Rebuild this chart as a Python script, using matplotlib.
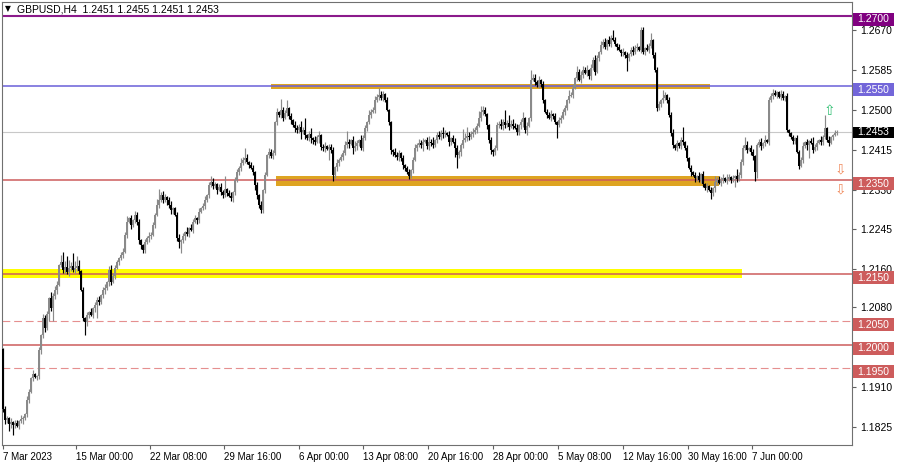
import matplotlib
matplotlib.use("Agg")
import matplotlib.pyplot as plt
import matplotlib.transforms as mtransforms
from matplotlib.patches import Rectangle
import numpy as np

plt.rcParams['font.family'] = ['Liberation Sans', 'DejaVu Sans']

# ------------------------------------------------------------------ data -- #
# GBPUSD H4 closes in pips (price * 10000), 7 Mar -> 7 Jun 2023
first_open = 11990
closes = [
    11863, 11839, 11843, 11831, 11835, 11829, 11833, 11827, 11837, 11841,
    11843, 11852, 11882, 11899, 11929, 11937, 11931, 11933, 11988, 12020,
    12056, 12035, 12065, 12099, 12078, 12103, 12116, 12127, 12169, 12175,
    12158, 12165, 12154, 12163, 12167, 12158, 12163, 12167, 12156, 12116,
    12056, 12048, 12063, 12069, 12063, 12078, 12084, 12095, 12090, 12105,
    12116, 12120, 12133, 12158, 12133, 12146, 12163, 12175, 12184, 12190,
    12197, 12233, 12261, 12269, 12254, 12265, 12276, 12261, 12222, 12212,
    12201, 12218, 12227, 12231, 12233, 12254, 12276, 12297, 12307, 12318,
    12307, 12314, 12307, 12297, 12286, 12290, 12276, 12227, 12218, 12222,
    12231, 12239, 12235, 12248, 12244, 12261, 12269, 12265, 12282, 12290,
    12295, 12307, 12318, 12339, 12346, 12337, 12341, 12329, 12335, 12324,
    12318, 12331, 12322, 12316, 12312, 12324, 12350, 12367, 12376, 12386,
    12393, 12397, 12388, 12382, 12376, 12367, 12339, 12318, 12297, 12286,
    12329, 12361, 12403, 12410, 12401, 12407, 12473, 12495, 12488, 12499,
    12482, 12493, 12503, 12486, 12478, 12467, 12461, 12456, 12463, 12452,
    12456, 12446, 12439, 12448, 12439, 12435, 12431, 12441, 12446, 12420,
    12418, 12422, 12416, 12420, 12414, 12361, 12378, 12386, 12393, 12399,
    12407, 12424, 12431, 12427, 12435, 12418, 12422, 12429, 12435, 12418,
    12439, 12461, 12473, 12488, 12495, 12499, 12520, 12527, 12531, 12524,
    12533, 12520, 12499, 12473, 12414, 12410, 12403, 12399, 12407, 12397,
    12382, 12376, 12367, 12358, 12371, 12393, 12418, 12424, 12429, 12424,
    12431, 12435, 12422, 12431, 12429, 12424, 12435, 12446, 12441, 12450,
    12448, 12450, 12446, 12431, 12439, 12431, 12418, 12403, 12410, 12424,
    12435, 12439, 12444, 12441, 12448, 12452, 12456, 12465, 12482, 12495,
    12499, 12490, 12467, 12435, 12414, 12410, 12418, 12467, 12469, 12465,
    12473, 12467, 12471, 12463, 12469, 12465, 12461, 12452, 12467, 12473,
    12482, 12456, 12465, 12482, 12563, 12567, 12558, 12552, 12563, 12554,
    12520, 12495, 12488, 12482, 12490, 12486, 12473, 12467, 12478, 12482,
    12495, 12503, 12520, 12529, 12531, 12546, 12567, 12580, 12563, 12573,
    12584, 12578, 12584, 12571, 12588, 12605, 12580, 12610, 12622, 12637,
    12644, 12633, 12648, 12639, 12652, 12648, 12639, 12633, 12627, 12620,
    12622, 12616, 12610, 12618, 12627, 12622, 12631, 12633, 12627, 12669,
    12622, 12631, 12627, 12635, 12648, 12616, 12584, 12503, 12512, 12520,
    12524, 12531, 12520, 12488, 12450, 12424, 12418, 12429, 12422, 12435,
    12431, 12418, 12397, 12376, 12367, 12361, 12354, 12358, 12350, 12363,
    12341, 12333, 12337, 12329, 12322, 12333, 12346, 12350, 12344, 12350,
    12354, 12348, 12352, 12356, 12350, 12354, 12358, 12352, 12361, 12388,
    12418, 12424, 12414, 12418, 12410, 12401, 12367, 12424, 12431, 12422,
    12429, 12435, 12431, 12520, 12529, 12535, 12531, 12537, 12527, 12533,
    12524, 12529, 12456, 12450, 12441, 12433, 12439, 12410, 12380, 12393,
    12422, 12431, 12424, 12433, 12429, 12414, 12420, 12429, 12435, 12431,
    12441, 12461, 12435, 12429, 12441, 12446, 12451, 12453,
]

# wick lengths, one digit per bar, in units of 3 pips
upper_wicks = (
    "1221312213" "2132131121" "3221423315" "7486395741" "2121312231"
    "2313422212" "3241213221" "1213221482" "3212311231" "2141322131"
    "2312432123" "2912312214" "2731221213" "1213221318" "2261213224"
    "2912413231" "2312221312" "2382134214" "2214223253" "2121113221"
    "2112123232" "3124241232" "4213123212" "8463232254" "3211212224"
    "2926342312" "4131733231" "2122312122" "2214231423" "3241324213"
    "2313262121" "3121232312" "2132512221" "6212231212" "9121212131"
    "2121214232" "3142121522" "2631221223" "1412232113" "2121121212"
    "3121242213" "29131121"
)
lower_wicks = (
    "2325372121" "3122121223" "2315292311" "2213212221" "2932123921"
    "2313212121" "2121312233" "2213212121" "2132331248" "2312121321"
    "1212121312" "2121232122" "1212123322" "2212121212" "2122313225"
    "1312332142" "2318242321" "2123142321" "2121212121" "2112331232"
    "3212121212" "4123221212" "3213216923" "2122121212" "2132332122"
    "3212121223" "3231212122" "2121221912" "1212121212" "2122312121"
    "2121211212" "2292121212" "1212121212" "2121221212" "2121313212"
    "2131423212" "2121216212" "2121236413" "1212121212" "1212122121"
    "2139121212" "21121212"
)

tick_bars = [0, 36.5, 73.5, 110.5, 148, 180, 212.5, 245, 277.5, 310, 342.5, 374.5]
tick_labels = ["7 Mar 2023", "15 Mar 00:00", "22 Mar 08:00", "29 Mar 16:00",
               "6 Apr 00:00", "13 Apr 08:00", "20 Apr 16:00", "28 Apr 00:00",
               "5 May 08:00", "12 May 16:00", "30 May 16:00", "7 Jun 00:00"]
price_ticks = [1.2670, 1.2585, 1.2500, 1.2415, 1.2330, 1.2245, 1.2160,
               1.2080, 1.1910, 1.1825]

# horizontal levels
level_prices = [1.2700, 1.2550, 1.2350, 1.2150, 1.2050, 1.2000, 1.1950]
level_colors = ["#8b1a8b", "#6a5fd8", "#cd5c5c", "#cd5c5c", "#e58f8f", "#cd5c5c", "#e58f8f"]
level_box_colors = ["#800080", "#7366d9", "#cd5c5c", "#cd5c5c", "#cd5c5c", "#cd5c5c", "#cd5c5c"]
level_widths = [1.5, 1.1, 1.1, 1.1, 0.8, 1.1, 0.8]
level_dashed = [False, False, False, False, True, False, True]

# zones (yellow 1.2150, resistance 1.2550, support 1.2350)
zone_start = [-0.5, 134, 136.5]
zone_end = [369.5, 353.5, 358]
zone_low = [1.2141, 1.2544, 1.2337]
zone_high = [1.2160, 1.2555, 1.2358]
zone_colors = ["#ffff00", "#dea421", "#dea421"]

last_price = 1.2453
signal_bars = [413, 418.5, 418.5]
signal_prices = [1.2497, 1.2373, 1.2331]
signal_marks = ["\u21e7", "\u21e9", "\u21e9"]
signal_colors = ["#2fbf71", "#f08a5d", "#f08a5d"]

# ------------------------------------------------------------- candles ---- #
n = len(closes)
c = np.array(closes) / 1e4
o = np.concatenate([[first_open], closes[:-1]]) / 1e4
uw = np.array([int(d) for d in upper_wicks[:n]]) * 3e-4
lw = np.array([int(d) for d in lower_wicks[:n]]) * 3e-4
hi = np.maximum(o, c) + uw
lo = np.minimum(o, c) - lw
x = np.arange(n)
bull = c >= o
cols = np.where(bull, "#8a8a8a", "#000000")

W, H = 900, 465
fig = plt.figure(figsize=(W / 100, H / 100), dpi=100)
ax = fig.add_axes([2 / W, 20 / H, 850 / W, 443 / H])
ymin, ymax = 1.17863, 1.27290
ax.set_xlim(-0.5, 424.5)
ax.set_ylim(ymin, ymax)
ppx = (ymax - ymin) / 443.0

for s, e, l, h, col in zip(zone_start, zone_end, zone_low, zone_high, zone_colors):
    ax.add_patch(Rectangle((s, l), e - s, h - l, facecolor=col, edgecolor="none", zorder=1))

ax.axhline(last_price, color="#c8c8c8", lw=0.8, zorder=0.8)
for p, col, w, d in zip(level_prices, level_colors, level_widths, level_dashed):
    ax.axhline(p, color=col, lw=w, ls=(0, (7, 3.5)) if d else "-", zorder=2)

ax.vlines(x, lo, hi, colors=cols, linewidth=0.85, zorder=3)
body = np.maximum(np.abs(c - o), 0.00005)
ax.bar(x, body, bottom=np.minimum(o, c), width=0.9, color=cols, linewidth=0, zorder=3)

for b, p, m, col in zip(signal_bars, signal_prices, signal_marks, signal_colors):
    ax.text(b, p, m, color=col, fontsize=10, ha="center", va="center", zorder=5,
            family="DejaVu Sans")

# ---------------------------------------------------------------- axes ---- #
for sp in ax.spines.values():
    sp.set_color("#707070")
    sp.set_linewidth(0.8)
ax.yaxis.tick_right()
ax.set_yticks(price_ticks)
ax.set_yticklabels([f"{p:.4f}" for p in price_ticks])
ax.set_xticks(tick_bars)
ax.set_xticklabels(tick_labels)
for t in ax.get_xticklabels():
    t.set_ha("left")
ax.tick_params(axis="both", direction="out", length=3, width=0.8, color="#606060",
               labelsize=7.5, labelcolor="black", pad=2)
ax.tick_params(axis="x", labelsize=7)
ax.tick_params(axis="y", pad=3)

# price boxes on the right scale
tr = mtransforms.blended_transform_factory(ax.transAxes, ax.transData)
bx0, bw = 1.0 + 1 / 850, 41 / 850
for p, col in zip(level_prices, level_box_colors):
    ax.add_patch(Rectangle((bx0, p - 10 * ppx), bw, 13 * ppx, transform=tr,
                           facecolor=col, edgecolor="none", clip_on=False, zorder=10))
    ax.text(bx0 + 4 / 850, p - 3.5 * ppx, f"{p:.4f}", transform=tr, color="white",
            fontsize=7.5, va="center", ha="left", clip_on=False, zorder=11)
ax.add_patch(Rectangle((bx0, last_price - 6 * ppx), bw, 11 * ppx, transform=tr,
                       facecolor="black", edgecolor="none", clip_on=False, zorder=10))
ax.text(bx0 + 4 / 850, last_price - 0.5 * ppx, f"{last_price:.4f}", transform=tr,
        color="white", fontsize=7.5, va="center", ha="left", clip_on=False, zorder=11)

# symbol header
fig.text(5 / W, 1 - 9 / H, "\u25bc", fontsize=5.5, va="center", ha="left",
         family="DejaVu Sans")
fig.text(17 / W, 1 - 9 / H, "GBPUSD,H4  1.2451 1.2455 1.2451 1.2453",
         fontsize=7.5, va="center", ha="left")

fig.savefig("out.png", dpi=100)
